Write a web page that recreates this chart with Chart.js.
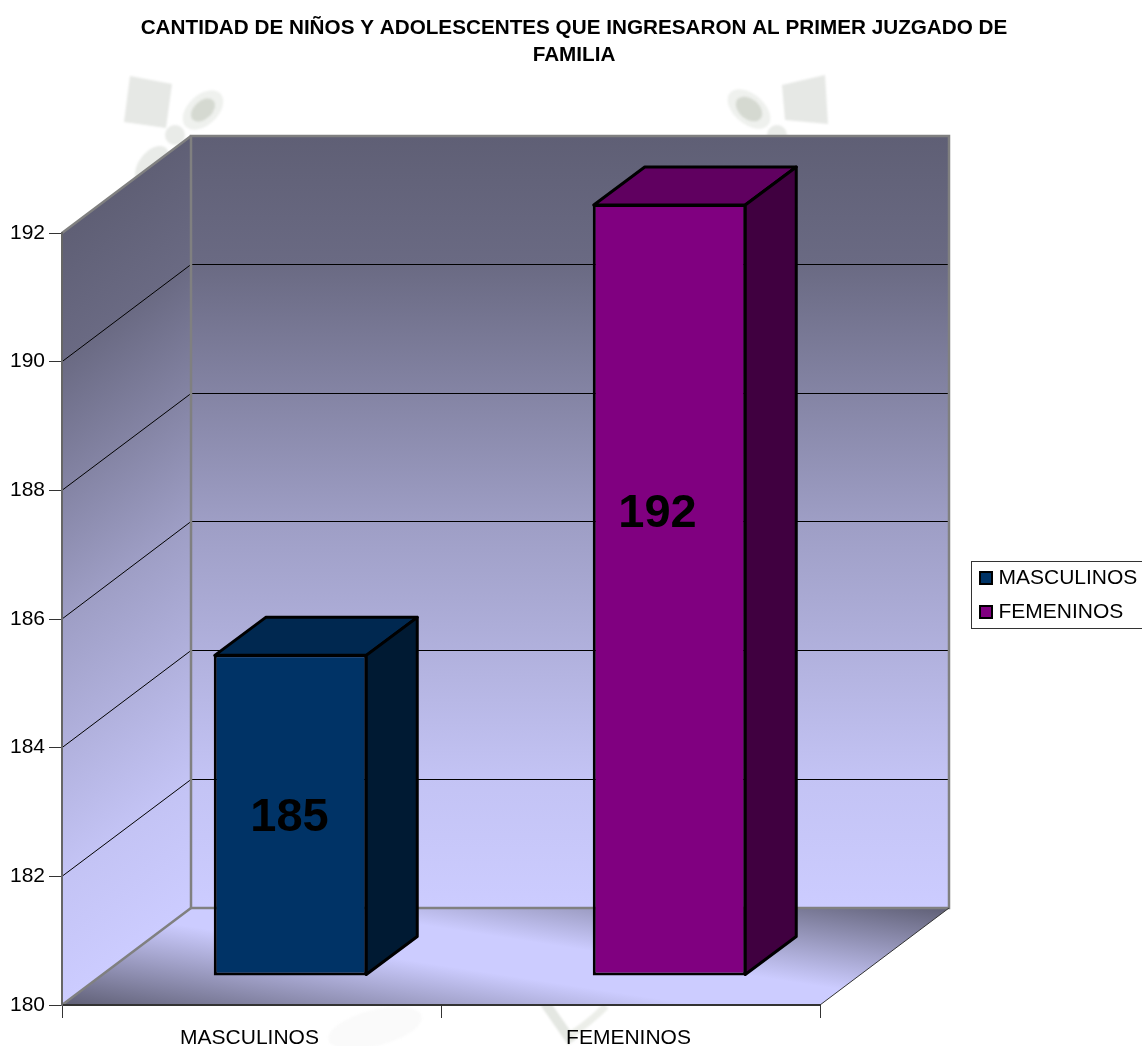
<!DOCTYPE html>
<html><head><meta charset="utf-8">
<style>html,body{margin:0;padding:0;background:#fff;overflow:hidden}canvas{display:block}</style>
<script src="https://cdn.jsdelivr.net/npm/chart.js@4"></script>
</head><body><canvas id="c" width="1142" height="1046"></canvas>
<script>
const titleLines = ['CANTIDAD DE NIÑOS Y ADOLESCENTES QUE INGRESARON AL PRIMER JUZGADO DE', 'FAMILIA'];
const categories = ['MASCULINOS', 'FEMENINOS'];
const values = [185, 192];
const faceColors = ['#003366', '#800080'];
const topColors = ['#002850', '#600060'];
const sideColors = ['#001a33', '#400040'];
const valueLabelAt = [182.45, 187.18];
const valueLabelShift = [-1, -12];
const FONT = '"Liberation Sans", Arial, sans-serif';
const DEPTH = {x: 129, y: 97};
const BAR_OFFSET = {x: 39, y: 29};
const BAR_DEPTH = {x: 51, y: 38};
const DARK = '#5f5f75', LIGHT = '#ccccff';

function poly(ctx, pts, fill) {
  ctx.beginPath();
  pts.forEach((p, i) => i ? ctx.lineTo(p[0], p[1]) : ctx.moveTo(p[0], p[1]));
  ctx.closePath();
  if (fill) { ctx.fillStyle = fill; ctx.fill(); }
}
function blob(ctx, x, y, rx, ry, rot, fill) {
  ctx.beginPath(); ctx.ellipse(x, y, rx, ry, rot, 0, Math.PI * 2); ctx.fillStyle = fill; ctx.fill();
}
function wallStops(g) {
  g.addColorStop(0, DARK);
  g.addColorStop(0.166, '#6a6a83');
  g.addColorStop(0.5, '#9e9ec5');
  g.addColorStop(0.83, '#c3c3f4');
  g.addColorStop(1, LIGHT);
}
function watermark(ctx) {
  ctx.save();
  ctx.filter = 'blur(1px)';
  poly(ctx, [[130,76],[172,84],[166,128],[124,122]], '#e6e8e5');
  blob(ctx, 203, 110, 24, 15, -0.75, '#eff1ee');
  blob(ctx, 203, 110, 14, 9, -0.75, '#d5d9d1');
  blob(ctx, 175, 135, 10, 10, 0, '#e9ebe8');
  blob(ctx, 152, 165, 22, 13, -0.9, '#e9ebe8');
  poly(ctx, [[782,85],[825,75],[828,124],[785,120]], '#e6e8e5');
  blob(ctx, 749, 109, 25, 15, 0.7, '#eff1ee');
  blob(ctx, 749, 109, 15, 10, 0.7, '#d5d9d1');
  blob(ctx, 777, 135, 10, 10, 0, '#e9ebe8');
  blob(ctx, 375, 1028, 48, 18, -0.25, '#fafafa');
  ctx.lineWidth = 10; ctx.strokeStyle = '#e4e7e2';
  ctx.beginPath(); ctx.moveTo(545, 1003); ctx.lineTo(572, 1042); ctx.stroke();
  ctx.lineWidth = 7; ctx.strokeStyle = '#eceee9';
  ctx.beginPath(); ctx.moveTo(606, 1006); ctx.quadraticCurveTo(590, 1022, 572, 1034); ctx.stroke();
  ctx.restore();
}

const scene = {
  id: 'scene',
  afterLayout(chart) {
    const lg = chart.legend;
    lg.left = 967; lg.right = 1142; lg.top = 554.5; lg.bottom = 760;
    lg.width = lg.right - lg.left; lg.height = lg.bottom - lg.top;
    const tb = chart.titleBlock;
    tb.left = 3; tb.right = 1145; tb.width = 1142;
  },
  beforeDraw(chart) {
    const {ctx, scales: {x, y}} = chart;
    const l = x.left, r = x.right, b = y.bottom, t = y.top;
    const dx = DEPTH.x, dy = DEPTH.y;
    ctx.save();
    ctx.fillStyle = '#fff'; ctx.fillRect(0, 0, chart.width, chart.height);
    watermark(ctx);

    // back wall
    const back = ctx.createLinearGradient(0, t - dy, 0, b - dy);
    wallStops(back);
    ctx.fillStyle = back; ctx.fillRect(l + dx, t - dy, r - l, b - t);

    // left wall (gradient sheared along the depth direction)
    ctx.save();
    poly(ctx, [[l, t], [l + dx, t - dy], [l + dx, b - dy], [l, b]]);
    ctx.clip();
    ctx.transform(1, -dy / dx, 0, 1, l, 0);
    const side = ctx.createLinearGradient(0, t, 0, b);
    wallStops(side);
    ctx.fillStyle = side; ctx.fillRect(0, t - 10, dx, b - t + 20);
    ctx.restore();

    // floor
    ctx.save();
    poly(ctx, [[l, b], [r, b], [r + dx, b - dy], [l + dx, b - dy]]);
    ctx.clip();
    ctx.transform(r - l, 0, dx, -dy, l, b);
    const fl = ctx.createLinearGradient(0, 0, 1, 1);
    fl.addColorStop(0, DARK); fl.addColorStop(0.42, LIGHT); fl.addColorStop(0.58, LIGHT); fl.addColorStop(1, DARK);
    ctx.fillStyle = fl; ctx.fillRect(-1, -1, 3, 3);
    ctx.restore();

    // gridlines on the walls
    ctx.strokeStyle = '#000'; ctx.lineWidth = 1;
    y.ticks.forEach(tk => {
      if (tk.value === y.min || tk.value === y.max) return;
      const p = y.getPixelForValue(tk.value);
      const backY = Math.floor(p - dy - 0.3) + 0.5;
      ctx.beginPath();
      ctx.moveTo(l, p); ctx.lineTo(l + dx, backY); ctx.lineTo(r + dx, backY);
      ctx.stroke();
    });

    // wall frames
    ctx.strokeStyle = '#808080'; ctx.lineWidth = 2.5;
    ctx.strokeRect(l + dx, t - dy, r - l, b - t);
    ctx.beginPath();
    ctx.moveTo(l, t); ctx.lineTo(l + dx, t - dy);
    ctx.moveTo(l, b); ctx.lineTo(l + dx, b - dy);
    ctx.stroke();
    ctx.strokeStyle = '#333'; ctx.lineWidth = 1;
    ctx.beginPath(); ctx.moveTo(r, b); ctx.lineTo(r + dx, b - dy); ctx.stroke();
    ctx.restore();
  },
  beforeDatasetsDraw(chart) {
    const {ctx} = chart;
    ctx.save();
    ctx.translate(BAR_OFFSET.x, -BAR_OFFSET.y);
    chart.getDatasetMeta(0).data.forEach((el, i) => {
      const L = el.x - el.width / 2 + 1, R = el.x + el.width / 2 - 1, T = el.y + 1, B = el.base - 1;
      const ox = BAR_DEPTH.x, oy = BAR_DEPTH.y;
      ctx.lineWidth = 3; ctx.strokeStyle = '#000'; ctx.lineJoin = 'round';
      poly(ctx, [[L, T], [R, T], [R + ox, T - oy], [L + ox, T - oy]], topColors[i]); ctx.stroke();
      poly(ctx, [[R, T], [R + ox, T - oy], [R + ox, B - oy], [R, B]], sideColors[i]); ctx.stroke();
    });
  },
  afterDatasetsDraw(chart) {
    const {ctx, scales: {y}} = chart;
    chart.getDatasetMeta(0).data.forEach((el, i) => {
      ctx.fillStyle = '#000';
      ctx.font = 'bold 47px ' + FONT;
      ctx.textAlign = 'center'; ctx.textBaseline = 'middle';
      ctx.fillText(String(values[i]), el.x + valueLabelShift[i], y.getPixelForValue(valueLabelAt[i]));
    });
    ctx.restore();
  },
  afterDraw(chart) {
    const {ctx} = chart;
    ctx.save();
    ctx.strokeStyle = '#333'; ctx.lineWidth = 1;
    ctx.strokeRect(971.5, 561.5, 180, 67);
    // legend swatches, sized independently of the library's text offset
    ctx.strokeStyle = '#000'; ctx.lineWidth = 2;
    categories.forEach((name, i) => {
      ctx.fillStyle = faceColors[i];
      ctx.fillRect(980, 572 + i * 34, 12, 12);
      ctx.strokeRect(980, 572 + i * 34, 12, 12);
    });
    ctx.restore();
  }
};

new Chart(document.getElementById('c'), {
  type: 'bar',
  data: {
    labels: categories,
    datasets: [{
      data: values,
      base: 180,
      backgroundColor: faceColors,
      borderColor: '#000',
      borderWidth: 3,
      borderSkipped: false,
      barPercentage: 0.405,
      categoryPercentage: 1,
      clip: false
    }]
  },
  plugins: [scene],
  options: {
    responsive: false,
    animation: false,
    devicePixelRatio: 1,
    events: [],
    layout: {autoPadding: false, padding: {left: 0, right: 322, top: 0, bottom: 0}},
    plugins: {
      tooltip: {enabled: false},
      title: {
        display: true,
        text: titleLines,
        color: '#000',
        font: {family: FONT, size: 20.7, weight: 'bold', lineHeight: 27 / 20.7},
        padding: {top: 15, bottom: 164}
      },
      legend: {
        display: true,
        position: 'chartArea',
        align: 'start',
        labels: {
          font: {family: FONT, size: 21},
          color: '#000',
          boxWidth: 8,
          boxHeight: 11,
          padding: 13,
          generateLabels: () => categories.map((name, i) => ({
            text: name, fillStyle: 'rgba(0,0,0,0)', strokeStyle: 'rgba(0,0,0,0)', lineWidth: 0, hidden: false, index: i, fontColor: '#000'
          }))
        }
      }
    },
    scales: {
      x: {
        offset: true,
        afterFit(s) { s.height = 41; },
        grid: {display: true, drawOnChartArea: false, drawTicks: true, tickLength: 13, color: '#333', offset: true},
        border: {display: true, color: '#333', width: 2},
        ticks: {color: '#000', font: {family: FONT, size: 21}, padding: 8, maxRotation: 0, labelOffset: -2}
      },
      y: {
        min: 180,
        max: 192,
        afterFit(s) { s.width = 62; },
        grid: {display: true, drawOnChartArea: false, drawTicks: true, tickLength: 13, color: '#333'},
        border: {display: true, color: '#666', width: 2},
        ticks: {stepSize: 2, color: '#000', font: {family: FONT, size: 21}, padding: 4}
      }
    }
  }
});
</script></body></html>
